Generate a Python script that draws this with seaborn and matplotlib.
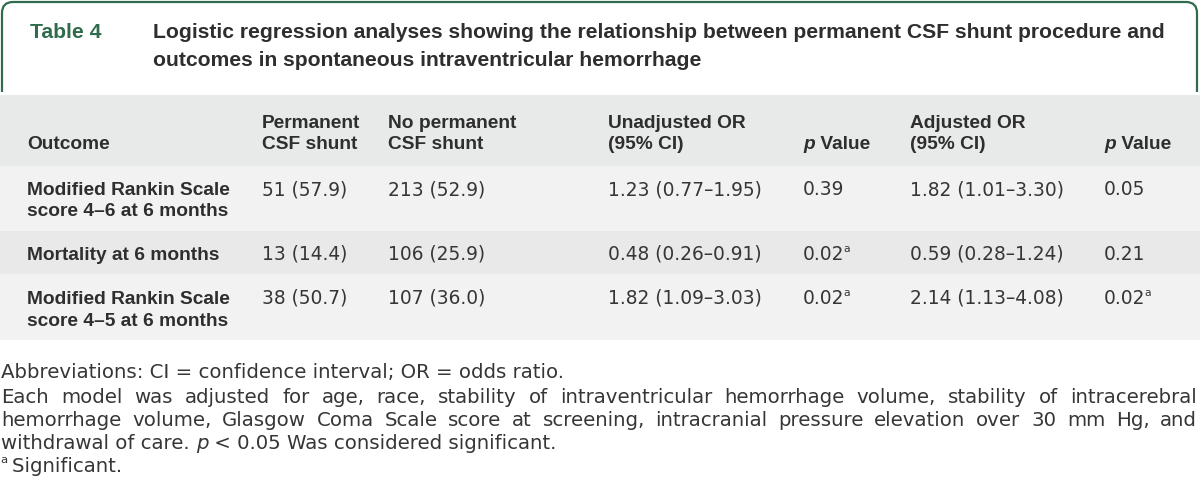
import matplotlib
matplotlib.use("Agg")
import matplotlib.pyplot as plt
import seaborn as sns
from matplotlib.path import Path
from matplotlib.patches import PathPatch

# ----------------------------------------
# Table content
# ----------------------------------------
table_label = "Table 4"
title_lines = ["Logistic regression analyses showing the relationship between permanent CSF shunt procedure and",
               "outcomes in spontaneous intraventricular hemorrhage"]

header_labels = ["Outcome", "Permanent\nCSF shunt", "No permanent\nCSF shunt",
                 "Unadjusted OR\n(95% CI)", "p Value", "Adjusted OR\n(95% CI)", "p Value"]

outcomes = ["Modified Rankin Scale\nscore 4\u20136 at 6 months",
            "Mortality at 6 months",
            "Modified Rankin Scale\nscore 4\u20135 at 6 months"]
shunt = ["51 (57.9)", "13 (14.4)", "38 (50.7)"]
no_shunt = ["213 (52.9)", "106 (25.9)", "107 (36.0)"]
unadj_or = ["1.23 (0.77\u20131.95)", "0.48 (0.26\u20130.91)", "1.82 (1.09\u20133.03)"]
unadj_p = ["0.39", "0.02", "0.02"]
unadj_sig = [False, True, True]
adj_or = ["1.82 (1.01\u20133.30)", "0.59 (0.28\u20131.24)", "2.14 (1.13\u20134.08)"]
adj_p = ["0.05", "0.21", "0.02"]
adj_sig = [False, False, True]

foot_abbrev = "Abbreviations: CI = confidence interval; OR = odds ratio."
foot_model = ["Each model was adjusted for age, race, stability of intraventricular hemorrhage volume, stability of intracerebral",
              "hemorrhage volume, Glasgow Coma Scale score at screening, intracranial pressure elevation over 30 mm Hg, and"]
foot_last = "withdrawal of care."
foot_sig = "Significant."

# ----------------------------------------
# Style
# ----------------------------------------
sns.set_theme(style="white")
plt.rcParams['font.family'] = ['Liberation Sans', 'DejaVu Sans']
BOLD = ['Liberation Sans', 'DejaVu Sans']
REG = ['DejaVu Sans']

green = "#2f6b4c"
text_col = "#2e2e2e"
reg_col = "#363636"
band_head = "#e8eaea"
band_light = "#f2f2f2"
band_dark = "#e9e9e9"

W, H = 1200, 501
fig = plt.figure(figsize=(12, 5.01), dpi=100)
ax = fig.add_axes([0, 0, 1, 1])
ax.set_xlim(0, W)
ax.set_ylim(H, 0)
ax.axis("off")
renderer = fig.canvas.get_renderer()


def width_of(t):
    bb = t.get_window_extent(renderer=renderer)
    return bb.width  # 1 px == 1 data unit here


def runs(x, y, parts, size, color=reg_col):
    # parts: list of (text, weight, style, sup)
    for txt, weight, style, sup in parts:
        fs = size * 0.58 if sup else size
        yy = y - size * 0.6 if sup else y
        fam = BOLD if weight == "bold" else REG
        col = text_col if weight == "bold" else color
        t = ax.text(x - (1 if sup else 0), yy, txt, fontsize=fs, fontweight=weight, fontstyle=style,
                    family=fam, color=col, va="baseline", ha="left")
        x += width_of(t)
    return x


def justify(line, x0, x1, y, size, color=reg_col):
    words = line.split(" ")
    arts = [ax.text(0, y, w, fontsize=size, family=REG, color=color, va="baseline") for w in words]
    widths = [width_of(a) for a in arts]
    gap = (x1 - x0 - sum(widths)) / (len(words) - 1)
    x = x0
    for a, w in zip(arts, widths):
        a.set_x(x)
        x += w + gap


# ----------------------------------------
# Title frame (rounded top corners)
# ----------------------------------------
r = 11
l, rt, top, bot = 2, 1197, 2, 92
verts = [(l, bot), (l, top + r), (l, top), (l + r, top), (rt - r, top), (rt, top), (rt, top + r), (rt, bot)]
codes = [Path.MOVETO, Path.LINETO, Path.CURVE3, Path.CURVE3, Path.LINETO, Path.CURVE3, Path.CURVE3, Path.LINETO]
ax.add_patch(PathPatch(Path(verts, codes), fill=False, edgecolor=green, lw=1.6))

tfs = 15.25
ax.text(30, 38, table_label, fontsize=tfs, fontweight="bold", family=BOLD, color=green, va="baseline")
for i, line in enumerate(title_lines):
    ax.text(153, 38 + i * 28, line, fontsize=tfs, fontweight="bold", family=BOLD, color=text_col, va="baseline")

# ----------------------------------------
# Table bands
# ----------------------------------------
band_edges = [95, 166, 231, 274, 340]
band_cols = [band_head, band_light, band_dark, band_light]
for (y0, y1), c in zip(zip(band_edges[:-1], band_edges[1:]), band_cols):
    ax.axhspan(y0, y1, color=c, lw=0)

col_x = [27, 262, 388, 608, 803, 910, 1104]
bfs = 13.8   # bold cells
rfs = 13.4   # regular cells
line_gap = 21.5

# header (bottom aligned)
head_base = 149
for x, lab in zip(col_x, header_labels):
    lines = lab.split("\n")
    for k, ln in enumerate(lines):
        y = head_base - (len(lines) - 1 - k) * line_gap
        if ln.startswith("p "):
            runs(x, y, [("p", "bold", "italic", False), (" Value", "bold", "normal", False)], bfs)
        else:
            ax.text(x, y, ln, fontsize=bfs, fontweight="bold", family=BOLD, color=text_col, va="baseline")

# body rows
row_base = [195, 260, 304]
for i in range(len(outcomes)):
    y = row_base[i]
    for k, ln in enumerate(outcomes[i].split("\n")):
        ax.text(col_x[0], y + k * line_gap, ln, fontsize=bfs, fontweight="bold", family=BOLD,
                color=text_col, va="baseline")
    for x, val in zip(col_x[1:4], [shunt[i], no_shunt[i], unadj_or[i]]):
        ax.text(x, y, val, fontsize=rfs, family=REG, color=reg_col, va="baseline")
    ax.text(col_x[5], y, adj_or[i], fontsize=rfs, family=REG, color=reg_col, va="baseline")
    for x, p, sig in [(col_x[4], unadj_p[i], unadj_sig[i]), (col_x[6], adj_p[i], adj_sig[i])]:
        parts = [(p, "normal", "normal", False)]
        if sig:
            parts.append(("a", "normal", "normal", True))
        runs(x, y, parts, rfs)

# ----------------------------------------
# Footnotes
# ----------------------------------------
ffs = 14.2
ax.text(1, 378, foot_abbrev, fontsize=ffs, family=REG, color=reg_col, va="baseline")
for k, ln in enumerate(foot_model):
    justify(ln, 1, 1197, 403 + k * 23, ffs)
runs(1, 449, [(foot_last + " ", "normal", "normal", False), ("p", "normal", "italic", False),
              (" < 0.05 Was considered significant.", "normal", "normal", False)], ffs)
runs(1, 472, [("a", "normal", "normal", True), ("\u2009" + foot_sig, "normal", "normal", False)], ffs)

fig.savefig("out.png", dpi=100, facecolor="white")
